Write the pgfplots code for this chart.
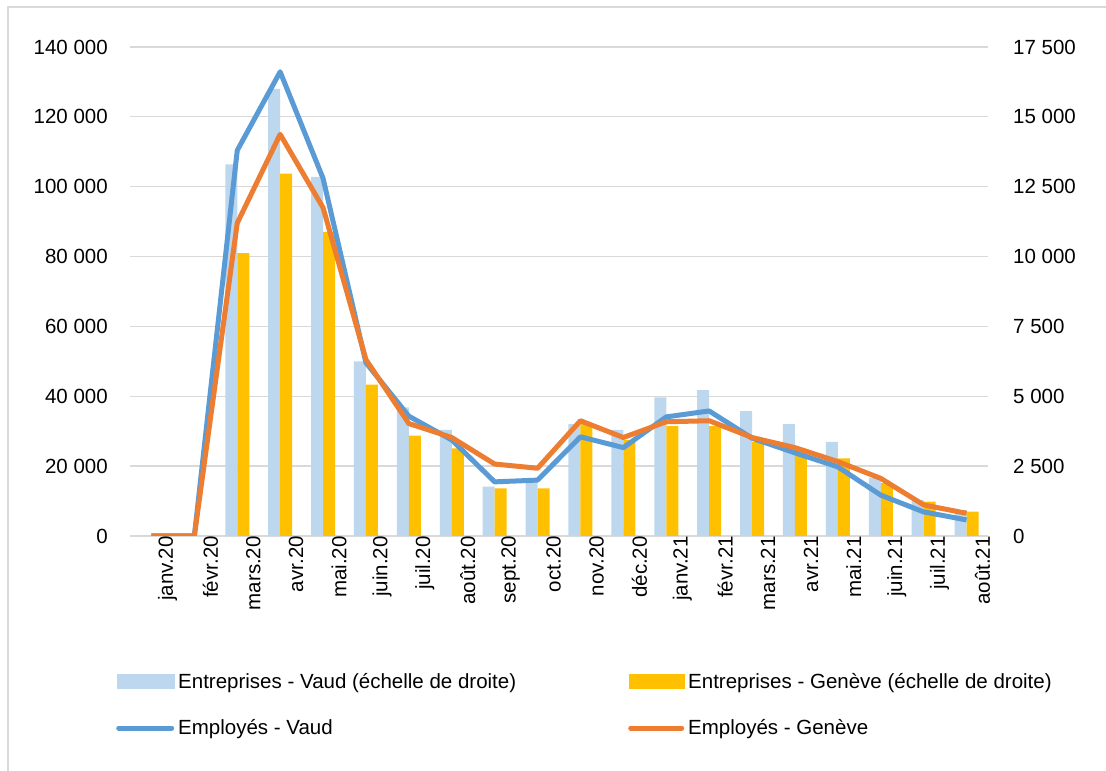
\documentclass[border=0pt]{standalone}
\usepackage{fontspec}
\setmainfont{Liberation Sans}
\usepackage{pgfplots}
\pgfplotsset{compat=1.18}
\definecolor{vaudbar}{HTML}{BDD7EE}
\definecolor{genbar}{HTML}{FFC000}
\definecolor{vaudline}{HTML}{5B9BD5}
\definecolor{genline}{HTML}{ED7D31}
\definecolor{gridc}{HTML}{D9D9D9}
\pgfplotsset{
  common/.style={
    scale only axis, width=858bp, height=489bp,
    at={(130bp,235bp)}, anchor=south west,
    xmin=-0.5, xmax=19.5, ymin=0,
    xtick={0,...,19},
    font=\fontsize{20.5bp}{24bp}\selectfont,
    major tick length=0pt,
    tick style={draw=none},
    scaled y ticks=false,
  }
}
\pgfplotstableread{
x ev eg
0 0 0
1 0 0
2 13300 10120
3 16000 12970
4 12850 10880
5 6250 5420
6 4600 3590
7 3800 3140
8 1770 1700
9 1950 1700
10 4000 4050
11 3800 3430
12 4960 3935
13 5220 3935
14 4470 3370
15 4000 3130
16 3370 2780
17 2080 1890
18 1290 1230
19 930 870
}\entreprises
\pgfplotstableread{
x pv pg
0 0 0
1 0 0
2 110400 89600
3 132900 115000
4 102400 94000
5 49600 50500
6 34300 32200
7 27500 28200
8 15500 20600
9 16000 19400
10 28400 33000
11 25300 28200
12 34100 32700
13 35800 33000
14 28000 28200
15 23800 25300
16 19800 21300
17 11700 16500
18 6900 8900
19 4600 6500
}\employes
\begin{document}
\begin{tikzpicture}
\useasboundingbox (0bp,0bp) rectangle (1106bp,771bp);
\draw[gridc, line width=1.3bp] (8bp,0bp) -- (8bp,764bp) -- (1106bp,764bp);
\begin{axis}[common,
  ymax=17500,
  axis y line*=right, axis x line*=bottom,
  ytick={0,2500,5000,7500,10000,12500,15000,17500},
  yticklabels={0,2 500,5 000,7 500,10 000,12 500,15 000,17 500},
  yticklabel style={anchor=west, inner sep=0pt, xshift=25bp},
  xticklabels={janv.20,févr.20,mars.20,avr.20,mai.20,juin.20,juil.20,août.20,sept.20,oct.20,nov.20,déc.20,janv.21,févr.21,mars.21,avr.21,mai.21,juin.21,juil.21,août.21},
  xticklabel style={rotate=90, anchor=east, inner sep=0pt, yshift=-16bp},
  ymajorgrids, grid style={gridc, line width=1.3bp},
  x axis line style={-, gridc, line width=1.3bp},
  y axis line style={draw=none},
  ybar=0pt, bar width=12bp,
]
\addplot[fill=vaudbar, draw=none] table[x=x, y=ev] {\entreprises};
\addplot[fill=genbar, draw=none] table[x=x, y=eg] {\entreprises};
\end{axis}
\begin{axis}[common,
  ymax=140000,
  axis y line*=left, hide x axis,
  ytick={0,20000,40000,60000,80000,100000,120000,140000},
  yticklabels={0,20 000,40 000,60 000,80 000,100 000,120 000,140 000},
  yticklabel style={anchor=east, inner sep=0pt, xshift=-22bp},
  y axis line style={draw=none},
  legend columns=2,
  legend style={draw=none, fill=none, at={(-0.01865,-0.280)}, anchor=north west,
    inner sep=0pt, row sep=30bp, nodes={inner sep=0pt}, cells={anchor=west},
    font=\fontsize{20.5bp}{24bp}\selectfont},
]
\addlegendimage{legend image code/.code={\fill[vaudbar] (0bp,-7bp) rectangle (57bp,7bp); \path (59bp,0bp);}}
\addlegendentry{\makebox[448bp][l]{Entreprises - Vaud (échelle de droite)}}
\addlegendimage{legend image code/.code={\fill[genbar] (0bp,-7bp) rectangle (55bp,7bp); \path (57bp,0bp);}}
\addlegendentry{Entreprises - Genève (échelle de droite)}
\addplot[vaudline, line width=5bp, line join=round, no marks,
  legend image code/.code={\draw[vaudline, line width=5bp, line cap=round] (2bp,0bp) -- (55bp,0bp); \path (0bp,0bp) (59bp,0bp);}]
  table[x=x, y=pv] {\employes};
\addlegendentry{\makebox[448bp][l]{Employés - Vaud}}
\addplot[genline, line width=5bp, line join=round, no marks,
  legend image code/.code={\draw[genline, line width=5bp, line cap=round] (2bp,0bp) -- (53bp,0bp); \path (0bp,0bp) (57bp,0bp);}]
  table[x=x, y=pg] {\employes};
\addlegendentry{Employés - Genève}
\end{axis}
\end{tikzpicture}
\end{document}
